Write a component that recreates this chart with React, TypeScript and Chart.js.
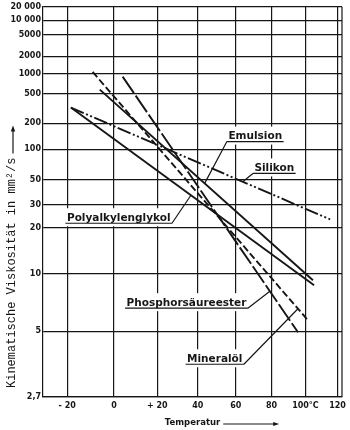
import React, { useEffect, useRef } from 'react';
import { Chart, registerables, Scale } from 'chart.js';

Chart.register(...registerables);

// ---------- data ----------
const xTickValues = [-20, 0, 20, 40, 60, 80, 100, 120];
const xTickLabels = ['- 20', '0', '+ 20', '40', '60', '80', '100°C', '120'];
const yTickValues = [2.7, 5, 10, 20, 30, 50, 100, 200, 500, 1000, 2000, 5000, 10000, 20000];
const yTickLabels = ['2,7', '5', '10', '20', '30', '50', '100', '200', '500', '1000', '2000', '5000', '10 000', '20 000'];

const seriesNames = ['Mineralöl', 'Emulsion', 'Phosphorsäureester', 'Silikon', 'Polyalkylenglykol'];
const mineraloelT = [-9.3, 101.5];
const mineraloelV = [1080, 5.64];
const emulsionT = [-6.2, 104.6];
const emulsionV = [574, 9.15];
const phosphorT = [3.9, 95.5];
const phosphorV = [907, 4.95];
const silikonT = [-18.5, 115.3];
const silikonV = [320, 23.1];
const polyT = [-18.5, 105.3];
const polyV = [320, 8.58];

const seriesT = [mineraloelT, emulsionT, phosphorT, silikonT, polyT];
const seriesV = [mineraloelV, emulsionV, phosphorV, silikonV, polyV];
const seriesDash: number[][] = [[7, 3], [], [20, 3], [14, 2.5, 2, 2.5, 2, 2.5], []];

// label annotations (anchor in data units: temperature, viscosity)
const labelTexts = ['Emulsion', 'Silikon', 'Polyalkylenglykol', 'Phosphorsäureester', 'Mineralöl'];
const labelSeries = [1, 3, 4, 2, 0];
const labelAnchorT = [55.2, 69.4, 27.1, 66.6, 64.4];
const labelAnchorV = [122, 57, 21.6, 6.47, 3.6];
const labelLeaderSide = ['left', 'left', 'right', 'right', 'right'];
const leaderTargetT = [43.5, 63.8, 36.5, 79.0, 95.5];

const yTitle = 'Kinematische Viskosität in mm²/s';
const xTitle = 'Temperatur';

// ---------- scales ----------
const walther = (v: number) => Math.log10(Math.log10(v + 0.7));
const waltherInv = (w: number) => Math.pow(10, Math.pow(10, w)) - 0.7;
const kelvinLog = (t: number) => Math.log10(t + 273.15);
const kelvinLogInv = (u: number) => Math.pow(10, u) - 273.15;

function makeFuncScale(id: string, fwd: (v: number) => number, inv: (v: number) => number, tickValues: number[]) {
  class FuncScale extends (Scale as any) {
    static id = id;
    static defaults = {};
    _s = 0;
    _r = 1;
    determineDataLimits() {
      this.min = this.options.min;
      this.max = this.options.max;
    }
    buildTicks() {
      return tickValues.filter((v) => v >= this.min && v <= this.max).map((v) => ({ value: v }));
    }
    getLabelForValue(v: number) {
      return String(v);
    }
    configure() {
      super.configure();
      this._s = fwd(this.min);
      this._r = fwd(this.max) - this._s;
    }
    getPixelForValue(v: number) {
      if (v === null || v === undefined || isNaN(v)) return NaN;
      return this.getPixelForDecimal((fwd(v) - this._s) / this._r);
    }
    getValueForPixel(p: number) {
      return inv(this._s + this.getDecimalForPixel(p) * this._r);
    }
  }
  return FuncScale;
}

const TempScale = makeFuncScale('tempLog', kelvinLog, kelvinLogInv, xTickValues);
const WaltherScale = makeFuncScale('walther', walther, waltherInv, yTickValues);
Chart.register(TempScale as any, WaltherScale as any);

const INK = '#161616';
const SANS = '"DejaVu Sans", sans-serif';

const annotationPlugin = {
  id: 'viscAnnotations',
  beforeDatasetsDraw(chart: any) {
    const { ctx, chartArea, scales } = chart;
    const xs = scales.x;
    const ys = scales.y;
    ctx.save();
    // right frame
    ctx.strokeStyle = INK;
    ctx.lineWidth = 1.2;
    ctx.beginPath();
    ctx.moveTo(chartArea.right, chartArea.top);
    ctx.lineTo(chartArea.right, chartArea.bottom);
    ctx.stroke();

    ctx.font = `bold 10.5px ${SANS}`;
    labelTexts.forEach((lbl, i) => {
      const ax = xs.getPixelForValue(labelAnchorT[i]);
      const ay = ys.getPixelForValue(labelAnchorV[i]);
      const w = ctx.measureText(lbl).width;
      const leftSide = labelLeaderSide[i] === 'left';
      const x0 = leftSide ? ax : ax - w - 3;
      const x1 = leftSide ? ax + w + 3 : ax;
      ctx.fillStyle = '#fff';
      ctx.fillRect(x0 - 8, ay - 15, x1 - x0 + 16, 18);
      ctx.fillStyle = INK;
      ctx.textAlign = 'left';
      ctx.textBaseline = 'alphabetic';
      ctx.fillText(lbl, x0 + 1.5, ay - 2.5);
      // leader target on its series line
      const si = labelSeries[i];
      const T = seriesT[si];
      const V = seriesV[si];
      const px0 = xs.getPixelForValue(T[0]);
      const py0 = ys.getPixelForValue(V[0]);
      const px1 = xs.getPixelForValue(T[T.length - 1]);
      const py1 = ys.getPixelForValue(V[V.length - 1]);
      const tx = xs.getPixelForValue(leaderTargetT[i]);
      const f = (tx - px0) / (px1 - px0);
      const ty = py0 + f * (py1 - py0);
      ctx.strokeStyle = INK;
      ctx.lineWidth = 1.2;
      ctx.beginPath();
      ctx.moveTo(x0, ay);
      ctx.lineTo(x1, ay);
      ctx.moveTo(leftSide ? x0 : x1, ay);
      ctx.lineTo(tx, ty);
      ctx.stroke();
    });
    ctx.restore();
  },
  afterDraw(chart: any) {
    const { ctx, chartArea } = chart;
    ctx.save();
    // y title
    ctx.font = `12px "Liberation Mono", "DejaVu Sans Mono", monospace`;
    ctx.fillStyle = INK;
    const yw = ctx.measureText(yTitle).width;
    const ty0 = chartArea.bottom - 9;
    ctx.save();
    ctx.translate(12, ty0);
    ctx.rotate(-Math.PI / 2);
    ctx.textAlign = 'left';
    ctx.textBaseline = 'middle';
    ctx.fillText(yTitle, 0, 0);
    ctx.restore();
    // y arrow
    const ay0 = ty0 - yw - 4;
    const ay1 = ay0 - 28;
    ctx.strokeStyle = INK;
    ctx.lineWidth = 1.2;
    ctx.beginPath();
    ctx.moveTo(13, ay0);
    ctx.lineTo(13, ay1 + 3);
    ctx.stroke();
    ctx.beginPath();
    ctx.moveTo(13, ay1);
    ctx.lineTo(10.8, ay1 + 6);
    ctx.lineTo(15.2, ay1 + 6);
    ctx.closePath();
    ctx.fill();
    // x arrow after title
    ctx.font = `bold 8.5px ${SANS}`;
    const xw = ctx.measureText(xTitle).width;
    const cx = (chartArea.left + chartArea.right) / 2;
    const axs = cx + xw / 2 + 3;
    const axe = axs + 56;
    const ayy = chart.height - 6;
    ctx.beginPath();
    ctx.moveTo(axs, ayy);
    ctx.lineTo(axe - 4, ayy);
    ctx.stroke();
    ctx.beginPath();
    ctx.moveTo(axe, ayy);
    ctx.lineTo(axe - 6, ayy - 2);
    ctx.lineTo(axe - 6, ayy + 2);
    ctx.closePath();
    ctx.fill();
    ctx.restore();
  },
};

export default function App() {
  const ref = useRef<HTMLCanvasElement | null>(null);
  useEffect(() => {
    if (!ref.current) return;
    const datasets = seriesNames.map((name, i) => ({
      label: name,
      data: seriesT[i].map((t, j) => ({ x: t, y: seriesV[i][j] })),
      borderColor: INK,
      borderWidth: 1.9,
      borderDash: seriesDash[i],
      pointRadius: 0,
      fill: false,
      tension: 0,
    }));
    const chart = new Chart(ref.current, {
      type: 'line',
      data: { datasets },
      options: {
        animation: false,
        responsive: false,
        layout: { padding: { left: 0, right: 8, top: 6, bottom: 0 } },
        plugins: { legend: { display: false }, tooltip: { enabled: false } },
        scales: {
          x: {
            type: 'tempLog' as any,
            position: 'bottom',
            min: -29.8,
            max: 122.9,
            afterFit: (s: any) => {
              s.height = 33;
            },
            grid: { color: INK, lineWidth: 1.2, drawTicks: false },
            border: { display: true, color: INK, width: 1.2 },
            ticks: {
              autoSkip: false,
              maxRotation: 0,
              padding: 4,
              color: INK,
              font: { family: SANS, size: 8, weight: 'bold' },
              callback: (_v: any, i: number) => xTickLabels[i],
            },
            title: {
              display: true,
              text: xTitle,
              color: INK,
              font: { family: SANS, size: 8.5, weight: 'bold' },
              padding: { top: 0, bottom: 2 },
            },
          } as any,
          y: {
            type: 'walther' as any,
            position: 'left',
            min: 2.7,
            max: 20000,
            afterFit: (s: any) => {
              s.width = 43;
            },
            grid: { color: INK, lineWidth: 1.2, drawTicks: false },
            border: { display: true, color: INK, width: 1.2 },
            ticks: {
              autoSkip: false,
              padding: 2,
              color: INK,
              font: { family: SANS, size: 8, weight: 'bold' },
              callback: (_v: any, i: number) => yTickLabels[i],
            },
          } as any,
        },
      },
      plugins: [annotationPlugin],
    });
    return () => chart.destroy();
  }, []);
  return (
    <div style={{ position: 'fixed', left: 0, top: 0, width: 350, height: 430, background: '#fff' }}>
      <canvas ref={ref} width={350} height={430} style={{ display: 'block' }} />
    </div>
  );
}
